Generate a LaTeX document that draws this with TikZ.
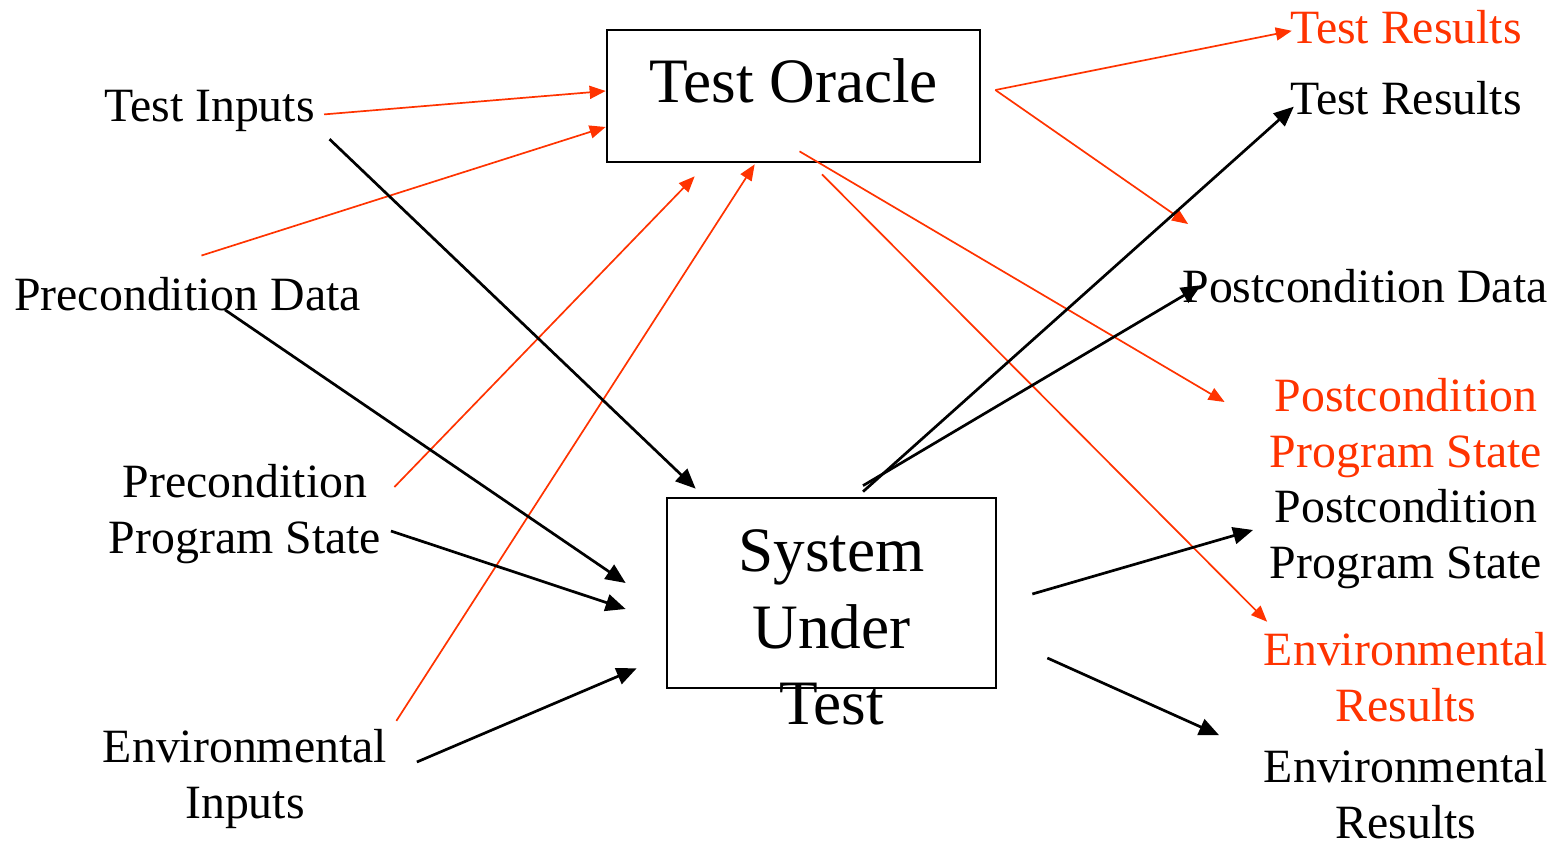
\documentclass[tikz,border=0pt]{standalone}
\usepackage{fontspec}
\setmainfont{Liberation Serif}
\usetikzlibrary{arrows.meta, positioning}
\definecolor{oraclered}{RGB}{255,51,0}
\tikzset{
  every picture/.style={line width=0.27mm},
  txt/.style={font=\fontsize{13.6}{16}\selectfont, align=center, inner sep=0pt},
  rtxt/.style={txt, text=oraclered},
  bigtxt/.style={font=\fontsize{18}{21.8}\selectfont, align=center, inner sep=0pt},
  box/.style={draw, rectangle, inner sep=0pt},
  blk/.style={-{Triangle[length=2mm, width=1.7mm]}},
  org/.style={color=oraclered, line width=0.17mm, -{Triangle[length=1.6mm, width=1.3mm]}}
}

\begin{document}
\begin{tikzpicture}[x=0.1mm, y=-0.1mm]
    \useasboundingbox (0,0) rectangle (1559,845);

    \node [box, minimum width=37.3mm, minimum height=13.2mm] (oracle) at (793.5,96) {};
    \node [bigtxt, below=2.86mm of oracle.north] (oracletxt) {Test Oracle};
    \node [box, minimum width=32.9mm, minimum height=19mm] (sut) at (831.5,593) {};
    \node [bigtxt, below=3.15mm of sut.north] (suttxt) {System\\Under\\Test};

    \node [txt] (ti) at (209.5,111.4) {Test Inputs};
    \node [txt] (pd) at (187.5,293.7) {Precondition Data};
    \node [txt] (pps) at (245,514) {Precondition\\Program State};
    \node [txt] (ei) at (245,779) {Environmental\\Inputs};

    \node [rtxt] (tr1) at (1406,26.8) {Test Results};
    \node [txt, below=3.55mm of tr1] (tr2) {Test Results};
    \node [txt] (pod) at (1365,286.2) {Postcondition Data};
    \node [rtxt] (pps1) at (1406,428) {Postcondition\\Program State};
    \node [txt] (pps2) at (1406,539) {Postcondition\\Program State};
    \node [rtxt] (er1) at (1406,677) {Environmental\\Results};
    \node [txt] (er2) at (1406,794) {Environmental\\Results};

    % oracle
    \draw ([shift={(8,3)}]ti.east) edge[org] ([shift={(0,-5)}]oracle.west);
    \draw ([shift={(14,-20)}]pd.north) edge[org] ([shift={(0,31)}]oracle.west);
    \draw ([shift={(12,-27)}]pps.east) edge[org] ([shift={(89,13)}]oracle.south west);
    \draw ([shift={(8,-7)}]ei.north east) edge[org] ([shift={(149,1)}]oracle.south west);
    \draw ([shift={(14,-6)}]oracle.east) edge[org] ([shift={(3,4)}]tr1.west);
    \draw ([shift={(14,-6)}]oracle.east) edge[org] ([shift={(7,-44)}]pod.north west);
    \draw ([shift={(6,-12)}]oracle.south) edge[org] ([shift={(-44,-26)}]pps1.west);
    \draw ([shift={(28.5,11)}]oracle.south) edge[org] ([shift={(4.5,-9)}]er1.north west);

    % system under test
    \draw ([shift={(13.5,5.7)}]ti.south east) edge[blk] ([shift={(30,-8)}]sut.north west);
    \draw ([shift={(37.5,-2)}]pd.south) edge[blk] ([shift={(-40,-10)}]sut.west);
    \draw ([shift={(8.5,17)}]pps.east) edge[blk] ([shift={(-40,16)}]sut.west);
    \draw ([shift={(28.5,-17)}]ei.east) edge[blk] ([shift={(-29,-21)}]sut.south west);
    \draw ([shift={(31.5,-5)}]sut.north) edge[blk] ([shift={(5,8)}]tr2.west);
    \draw ([shift={(31.5,-11)}]sut.north) edge[blk] ([shift={(20,-1)}]pod.west);
    \draw ([shift={(35,1)}]sut.east) edge[blk] ([shift={(-15.5,-9)}]pps2.west);
    \draw ([shift={(50,65)}]sut.east) edge[blk] ([shift={(-43.5,-12.5)}]er2.north west);
\end{tikzpicture}
\end{document}
